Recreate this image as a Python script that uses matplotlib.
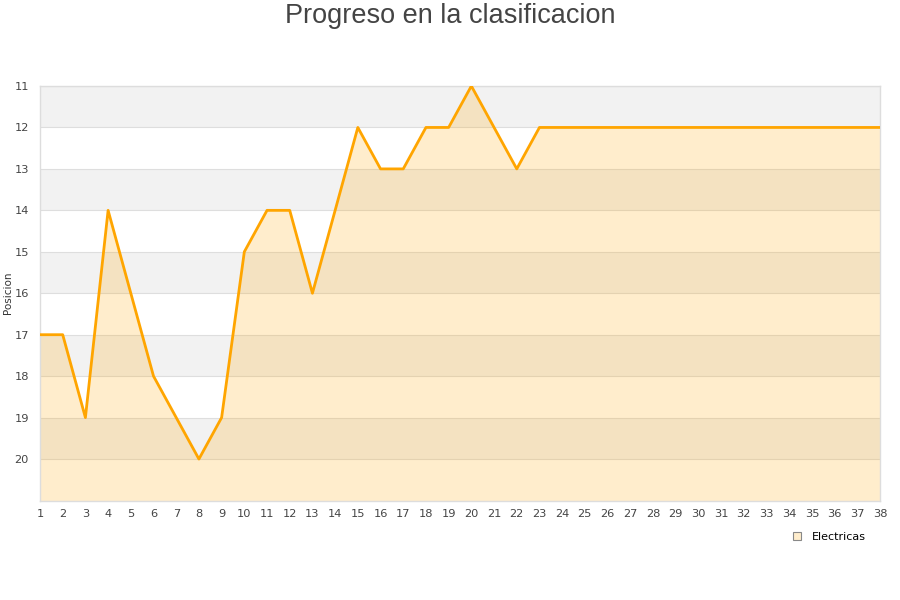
import matplotlib
matplotlib.use("Agg")
import matplotlib.pyplot as plt
from matplotlib.lines import Line2D

jornadas = list(range(1, 39))
posicion = [17, 17, 19, 14, 16, 18, 19, 20, 19, 15, 14, 14, 16, 14, 12, 13, 13, 12, 12, 11,
            12, 13, 12, 12, 12, 12, 12, 12, 12, 12, 12, 12, 12, 12, 12, 12, 12, 12]
y_ticks = list(range(11, 21))
series_name = "Electricas"
title = "Progreso en la clasificacion"
y_label = "Posicion"

fig = plt.figure(figsize=(9, 6), dpi=100)
ax = fig.add_axes([40/900, 1-500.5/600, 840/900, (500.5-86)/600])

# alternating bands
for k in range(11, 21, 2):
    ax.axhspan(k, k+1, color="#f2f2f2", zorder=0, lw=0)
for k in y_ticks:
    ax.axhline(k, color="#dedede", lw=0.8, zorder=1)

ax.fill_between(jornadas, posicion, 21, color="#ffa500", alpha=0.2, lw=0, zorder=2)
ax.plot(jornadas, posicion, color="#ffa500", lw=2, zorder=3)

ax.set_xlim(1, 38)
ax.set_ylim(21, 11)
ax.set_xticks(jornadas)
ax.set_yticks(y_ticks)
ax.tick_params(axis="both", length=0, labelsize=8.2, colors="#444444")
ax.tick_params(axis="x", pad=6)
ax.tick_params(axis="y", pad=8)
for s in ax.spines.values():
    s.set_color("#dddddd")
    s.set_linewidth(1)

ax.set_ylabel(y_label, fontsize=7.5, color="#333333")
ax.yaxis.set_label_coords(-27/840, 0.5)
fig.text(0.5, 1-16/600, title, ha="center", va="center", fontsize=19.5,
         color="#444444", family="Liberation Sans")

handle = Line2D([], [], marker="s", linestyle="none", markersize=6,
                markerfacecolor="#ffedcc", markeredgecolor="#888888", markeredgewidth=0.8)
fig.legend([handle], [series_name], loc="center", bbox_to_anchor=(826/900, 1-537/600),
           frameon=False, fontsize=8, handletextpad=0.3, borderaxespad=0)

fig.savefig("out.png", dpi=100)
